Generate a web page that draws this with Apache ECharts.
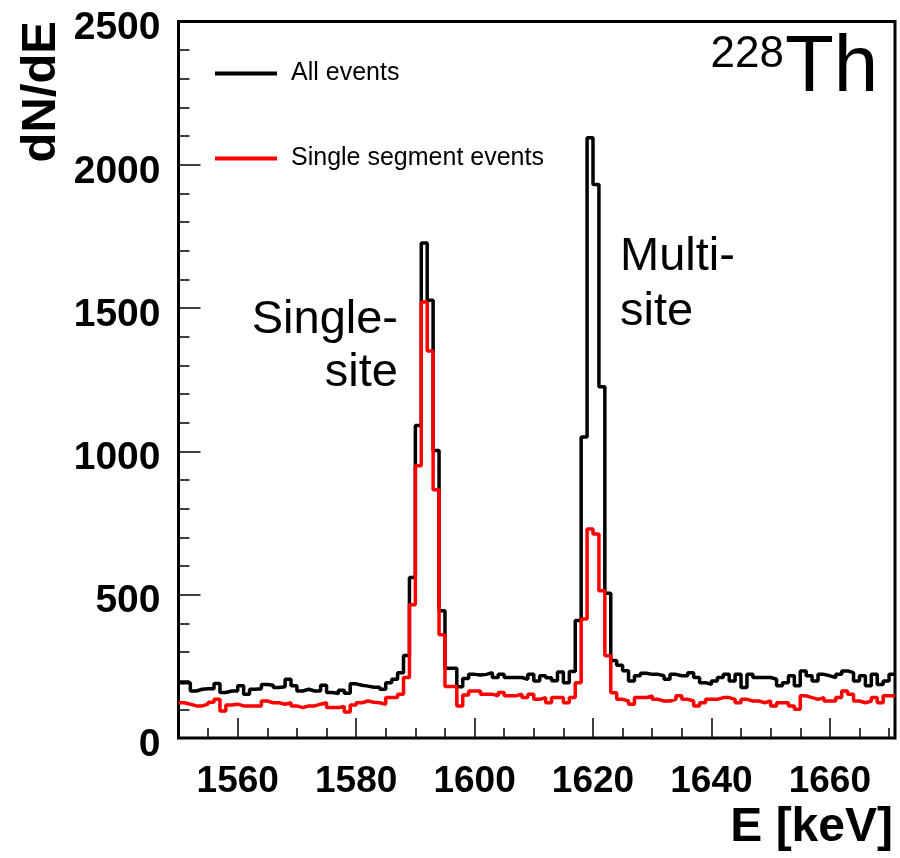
<!DOCTYPE html>
<html><head><meta charset="utf-8">
<script src="https://cdn.jsdelivr.net/npm/echarts@6/dist/echarts.min.js"></script>
<style>html,body{margin:0;padding:0;background:#fff}#c{width:900px;height:858px}</style>
</head><body><div id="c"></div>
<script>
// Histogram: 1 keV bins, low edge of first bin
const binStart = 1550;
const binWidth = 1;
const xMin = 1550, xMax = 1671;
const xTickLabels = [1560, 1580, 1600, 1620, 1640, 1660];
const yMin = 0, yMax = 2500, yStep = 500;

// All events (black), bins 1550..1670
const allEvents = [
  193,193,164,170,172,172,190,159,164,164,
  182,153,170,172,187,184,176,179,205,182,
  164,170,164,164,184,159,155,167,156,189,
  184,181,177,177,170,193,205,228,288,560,
  1090,1727,1527,1003,444,243,243,179,208,222,
  220,222,228,211,222,211,211,211,205,222,
  199,217,210,200,230,193,232,410,1050,2094,
  1931,1226,505,270,254,235,199,217,226,222,
  222,217,205,222,217,217,228,211,193,187,
  199,211,222,199,222,176,222,211,211,211,
  205,182,193,217,182,234,217,199,222,217,
  211,222,234,228,199,217,182,222,187,199,
  222
];
// Single segment events (red), bins 1550..1670
const singleSegment = [
  123,118,112,112,118,125,135,94,115,118,
  112,112,112,112,129,123,123,118,123,112,
  106,112,112,118,123,106,106,110,91,115,
  123,129,125,123,118,141,141,153,211,465,
  950,1521,1350,866,360,180,180,112,150,164,
  164,153,153,147,159,147,147,153,141,153,
  135,141,123,141,141,123,141,193,415,729,
  712,514,287,158,135,129,118,141,141,147,
  135,129,129,135,147,135,129,112,123,135,
  135,141,141,135,123,135,129,129,123,129,
  112,123,123,112,100,147,141,135,141,129,
  129,141,164,153,129,123,129,141,123,147,
  147
];
const seriesNames = ['All events', 'Single segment events'];
const seriesColors = ['#000000', '#ff0000'];

function toSteps(values) {
  const pts = values.map((v, i) => [binStart + i * binWidth, v]);
  pts.push([binStart + values.length * binWidth, values[values.length - 1]]);
  return pts;
}

const FONT = "'Liberation Sans', Arial, Helvetica, sans-serif";
const tickStyle = { color: '#000', width: 1.5 };
const plain = v => String(v);

const chart = echarts.init(document.getElementById('c'), null, { renderer: 'canvas' });
chart.setOption({
  animation: false,
  backgroundColor: '#fff',
  textStyle: { fontFamily: FONT, color: '#000' },
  grid: {
    left: 178.5, right: 5, top: 21.5, bottom: 120,
    show: true, borderColor: '#000', borderWidth: 3,
    backgroundColor: 'transparent',
    containLabel: false, outerBoundsMode: 'none'
  },
  legend: [
    {
      data: [seriesNames[0]], left: 215, top: 61, orient: 'vertical', padding: 0,
      icon: 'rect', itemWidth: 62, itemHeight: 4, selectedMode: false,
      textStyle: { fontSize: 25, color: '#000', fontFamily: FONT, padding: [0, 0, 0, 9] }
    },
    {
      data: [seriesNames[1]], left: 215, top: 146, orient: 'vertical', padding: 0,
      icon: 'rect', itemWidth: 62, itemHeight: 4, selectedMode: false,
      textStyle: { fontSize: 25, color: '#000', fontFamily: FONT, padding: [0, 0, 0, 9] }
    }
  ],
  xAxis: [
    {
      type: 'value', min: xMin, max: xMax,
      axisLine: { show: false }, splitLine: { show: false },
      axisTick: { show: true, inside: true, length: 20, customValues: xTickLabels, lineStyle: tickStyle },
      axisLabel: { show: true, customValues: xTickLabels, formatter: plain, margin: 25, fontSize: 37, fontWeight: 'bold', color: '#000', fontFamily: FONT }
    },
    {
      type: 'value', min: xMin, max: xMax, interval: 5, position: 'bottom',
      axisLine: { show: false }, splitLine: { show: false },
      axisTick: { show: true, inside: true, length: 10, lineStyle: tickStyle },
      axisLabel: { show: false }
    }
  ],
  yAxis: {
    type: 'value', min: yMin, max: yMax, interval: yStep,
    axisLine: { show: false }, splitLine: { show: false },
    axisTick: { show: true, inside: true, length: 22, lineStyle: tickStyle },
    minorTick: { show: true, splitNumber: 5, length: 11, lineStyle: tickStyle },
    axisLabel: { formatter: plain, margin: 18, fontSize: 39, fontWeight: 'bold', color: '#000', fontFamily: FONT, verticalAlign: 'top', lineHeight: 14 }
  },
  series: [
    {
      name: seriesNames[0], type: 'line', step: 'end', data: toSteps(allEvents),
      symbol: 'none', silent: true, z: 2,
      lineStyle: { color: seriesColors[0], width: 3.5 }, itemStyle: { color: seriesColors[0] }
    },
    {
      name: seriesNames[1], type: 'line', step: 'end', data: toSteps(singleSegment),
      symbol: 'none', silent: true, z: 3,
      lineStyle: { color: seriesColors[1], width: 3.5 }, itemStyle: { color: seriesColors[1] }
    }
  ],
  graphic: [
    { type: 'text', x: 41, y: 21, rotation: Math.PI / 2,
      style: { text: 'dN/dE', font: 'bold 49px ' + FONT, fill: '#000', align: 'right', textAlign: 'right', verticalAlign: 'middle', textVerticalAlign: 'middle' } },
    { type: 'text', x: 893, y: 828,
      style: { text: 'E [keV]', font: 'bold 48px ' + FONT, fill: '#000', align: 'right', textAlign: 'right', verticalAlign: 'middle', textVerticalAlign: 'middle' } },
    { type: 'text', x: 784, y: 55,
      style: { text: '228', font: '44px ' + FONT, fill: '#000', align: 'right', textAlign: 'right', verticalAlign: 'middle', textVerticalAlign: 'middle' } },
    { type: 'text', x: 785, y: 69,
      style: { text: 'Th', font: '80px ' + FONT, fill: '#000', align: 'left', textAlign: 'left', verticalAlign: 'middle', textVerticalAlign: 'middle' } },
    { type: 'text', x: 398, y: 320,
      style: { text: 'Single-', font: '47px ' + FONT, fill: '#000', align: 'right', textAlign: 'right', verticalAlign: 'middle', textVerticalAlign: 'middle' } },
    { type: 'text', x: 398, y: 373,
      style: { text: 'site', font: '47px ' + FONT, fill: '#000', align: 'right', textAlign: 'right', verticalAlign: 'middle', textVerticalAlign: 'middle' } },
    { type: 'text', x: 620, y: 257,
      style: { text: 'Multi-', font: '47px ' + FONT, fill: '#000', align: 'left', textAlign: 'left', verticalAlign: 'middle', textVerticalAlign: 'middle' } },
    { type: 'text', x: 620, y: 312,
      style: { text: 'site', font: '47px ' + FONT, fill: '#000', align: 'left', textAlign: 'left', verticalAlign: 'middle', textVerticalAlign: 'middle' } }
  ]
});
</script>
</body></html>
